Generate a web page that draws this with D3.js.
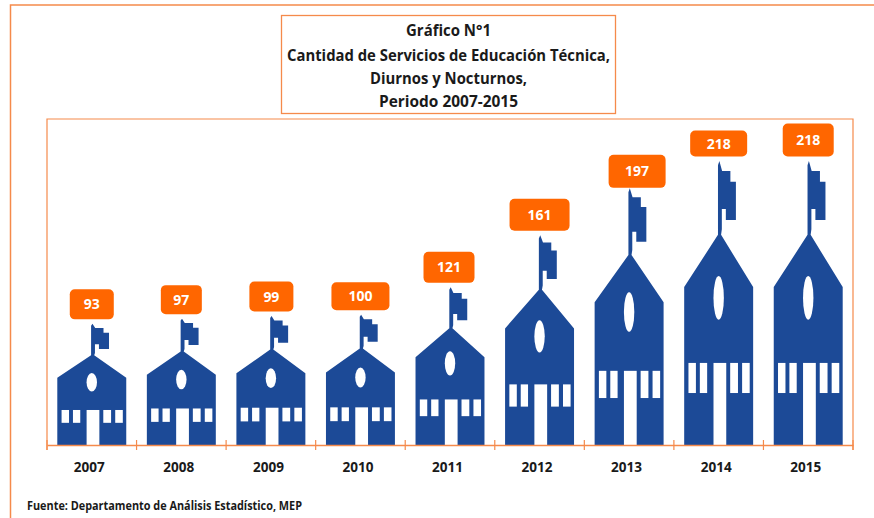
<!DOCTYPE html>
<html lang="es">
<head>
    <meta charset="UTF-8">
    <title>Servicios de Educación Técnica</title>
    <style>
        body { margin: 0; background: #fff; }
        svg { display: block; }
        text { font-family: "Open Sans", "Noto Sans", sans-serif; font-weight: 700; }
    </style>
    <script src="https://d3js.org/d3.v7.min.js"></script>
</head>
<body>
    <svg id="chart" width="874" height="518"></svg>
    <script>
        const years = ["2007", "2008", "2009", "2010", "2011", "2012", "2013", "2014", "2015"];
        const servicios = [93, 97, 99, 100, 121, 161, 197, 218, 218];
        const titleLines = [
            "Gráfico N°1",
            "Cantidad de Servicios de Educación Técnica,",
            "Diurnos y Nocturnos,",
            "Periodo 2007-2015"
        ];
        const fuente = "Fuente: Departamento de Análisis Estadístico, MEP";

        // the value boxes were hand placed in the original, so each one differs
        const labelWidth = [44, 41, 44, 58, 51, 60, 57, 57, 51];
        const labelHeight = [30, 29, 30, 28, 31, 32, 33, 26, 33];
        const labelShift = [0, 0, 0.5, 0, -1, 0, 8, 0, 0];
        const labelGap = [4.5, 4.5, 4.5, 4.5, 4.5, 4.5, 0.5, 4.5, 4.5];

        const orange = "#f58a4b";
        const boxOrange = "#ff6600";
        const blue = "#1c4a97";

        const svg = d3.select("#chart");
        const plotLeft = 47, plotRight = 853, plotTop = 119, base = 445;

        const x = d3.scaleBand().domain(years).range([plotLeft, plotRight])
            .paddingInner(0.23).paddingOuter(0.115);
        const y = d3.scaleLinear().domain([0, 218]).range([base, 161]);

        // outer frame, only top and left are visible
        svg.append("path").attr("d", "M874,5H10.5V518")
            .attr("fill", "none").attr("stroke", orange).attr("stroke-width", 1.5);

        // title
        svg.append("rect").attr("x", 281.5).attr("y", 15.5).attr("width", 334).attr("height", 98)
            .attr("fill", "#fff").attr("stroke", orange).attr("stroke-width", 1.3);
        const titleY = [35.5, 60.5, 83.5, 106.5];
        const titleLen = [85, 323, 157, 139];
        svg.selectAll(".title").data(titleLines).enter().append("text")
            .attr("class", "title")
            .attr("x", 448.5)
            .attr("y", (d, i) => titleY[i])
            .attr("text-anchor", "middle")
            .attr("font-size", 16.5)
            .attr("textLength", (d, i) => titleLen[i])
            .attr("lengthAdjust", "spacingAndGlyphs")
            .attr("fill", "#1a1a1a")
            .text(d => d);

        // plot frame
        svg.append("path").attr("d", `M${plotLeft},450V${plotTop}H${plotRight}V450`)
            .attr("fill", "none").attr("stroke", orange).attr("stroke-width", 1.2);

        // school icon, u runs 0-1 across the band and f 0-1 up to the value
        const outline = [[0, 0], [0, .556], [.49, .74], [.49, .985], [.51, 1], [.55, .965], [.67, .965],
            [.67, .927], [.75, .927], [.75, .792], [.604, .792], [.604, .831], [.546, .831],
            [.546, .76], [.535, .74], [1, .556], [1, 0]];
        const windows = [[.062, .17], [.227, .333], [.667, .78], [.84, .95]];
        const door = [.425, .61];

        const school = svg.selectAll(".school").data(years).enter().append("g").attr("class", "school");

        const px = (year, u) => x(year) + u * x.bandwidth();
        const py = (i, f) => y(servicios[i] * f);

        school.append("path")
            .attr("fill", blue)
            .attr("d", (d, i) => d3.line()(outline.map(p => [px(d, p[0]), py(i, p[1])])) + "Z");
        school.append("ellipse")
            .attr("fill", "#fff")
            .attr("cx", d => px(d, .5))
            .attr("cy", (d, i) => py(i, .518))
            .attr("rx", 5.2)
            .attr("ry", (d, i) => py(i, .518) - py(i, .595));
        school.append("rect")
            .attr("fill", "#fff")
            .attr("x", d => px(d, door[0]))
            .attr("width", (door[1] - door[0]) * x.bandwidth())
            .attr("y", (d, i) => py(i, .289))
            .attr("height", (d, i) => py(i, 0) - py(i, .289));
        school.each(function (d, i) {
            d3.select(this).selectAll(".win").data(windows).enter().append("rect")
                .attr("class", "win")
                .attr("fill", "#fff")
                .attr("x", w => px(d, w[0]))
                .attr("width", w => (w[1] - w[0]) * x.bandwidth())
                .attr("y", py(i, .289))
                .attr("height", py(i, .183) - py(i, .289));
        });

        // axis: band edges get the ticks, years sit below
        const axis = svg.append("g").attr("transform", `translate(0,${base})`)
            .call(d3.axisBottom(x).tickSize(0).tickPadding(17));
        axis.select(".domain").attr("stroke", orange).attr("stroke-width", 1.5);
        axis.selectAll("text")
            .attr("font-size", 14)
            .attr("fill", "#1a1a1a")
            .attr("dx", -2.5)
            .attr("textLength", 31)
            .attr("lengthAdjust", "spacingAndGlyphs")
            .style("font-family", '"Open Sans", sans-serif');
        const edges = d3.range(years.length + 1).map(i => plotLeft + i * x.step());
        svg.selectAll(".edge").data(edges).enter().append("line")
            .attr("class", "edge")
            .attr("x1", d => d).attr("x2", d => d)
            .attr("y1", 440).attr("y2", 450)
            .attr("stroke", orange).attr("stroke-width", 1.2);

        // value boxes
        const label = svg.selectAll(".valor").data(servicios).enter().append("g").attr("class", "valor");
        const labelCx = (d, i) => x(years[i]) + x.bandwidth() / 2 + labelShift[i];
        label.append("rect")
            .attr("x", (d, i) => labelCx(d, i) - labelWidth[i] / 2)
            .attr("y", (d, i) => y(d) - labelGap[i] - labelHeight[i])
            .attr("width", (d, i) => labelWidth[i])
            .attr("height", (d, i) => labelHeight[i])
            .attr("rx", 5)
            .attr("fill", boxOrange);
        label.append("text")
            .attr("x", labelCx)
            .attr("y", (d, i) => y(d) - labelGap[i] - labelHeight[i] / 2 + 5)
            .attr("text-anchor", "middle")
            .attr("font-size", 15)
            .attr("textLength", d => String(d).length * 8)
            .attr("lengthAdjust", "spacingAndGlyphs")
            .attr("fill", "#fff")
            .text(d => d);

        svg.append("text")
            .attr("x", 27).attr("y", 510)
            .attr("font-size", 13)
            .attr("textLength", 275)
            .attr("lengthAdjust", "spacingAndGlyphs")
            .attr("fill", "#1a1a1a")
            .text(fuente);
    </script>
</body>
</html>
